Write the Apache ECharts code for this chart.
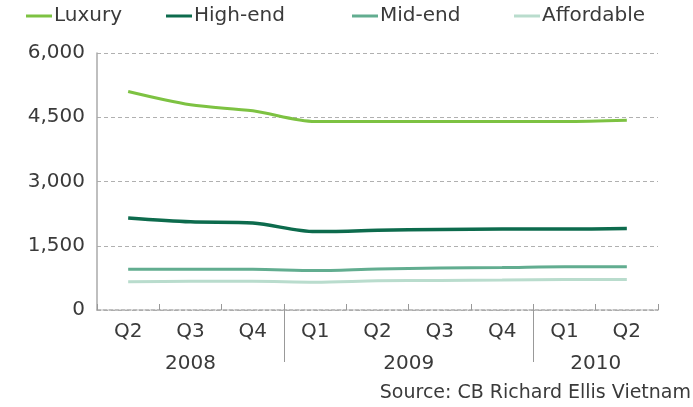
<!DOCTYPE html>
<html>
<head>
<meta charset="utf-8">
<script src="https://cdn.jsdelivr.net/npm/echarts@6/dist/echarts.min.js"></script>
<style>
  html, body { margin: 0; padding: 0; background: #fff; }
  #chart { width: 693px; height: 407px; }
</style>
</head>
<body>
<div id="chart"></div>
<script>
// quarters along the x axis
const quarters = ['Q2', 'Q3', 'Q4', 'Q1', 'Q2', 'Q3', 'Q4', 'Q1', 'Q2']
// years and how many quarters each covers
const years = ['2008', '2009', '2010']
const quartersPerYear = [3, 4, 2]

const seriesNames = ['Luxury', 'High-end', 'Mid-end', 'Affordable']
const luxury = [5100, 4790, 4650, 4400, 4400, 4400, 4400, 4400, 4430]
const highEnd = [2150, 2060, 2030, 1830, 1860, 1880, 1890, 1890, 1900]
const midEnd = [950, 950, 950, 920, 960, 980, 990, 1010, 1010]
const affordable = [660, 670, 670, 650, 680, 690, 700, 710, 710]

const yTicks = [0, 1500, 3000, 4500, 6000]

const colors = ['#7dc242', '#0d6b4d', '#62ad90', '#b9dccd']
const font = 'DejaVu Sans'

// year label centres and separators in category units
const yearCenters = []
const yearBreaks = []
let acc = 0
quartersPerYear.forEach((n, i) => {
  yearCenters.push(acc + n / 2)
  acc += n
  if (i < quartersPerYear.length - 1) yearBreaks.push(acc)
})

const chart = echarts.init(document.getElementById('chart'))

const legendLeft = [26, 166, 352, 514]
const legends = seriesNames.map((name, i) => ({
  data: [name],
  left: legendLeft[i],
  top: 6,
  padding: 0,
  itemWidth: 26,
  itemHeight: 3,
  itemGap: 0,
  icon: 'rect',
  textStyle: { fontFamily: font, fontSize: 20, color: '#3a3a3a', padding: [0, 0, 0, -3] }
}))

const seriesData = [luxury, highEnd, midEnd, affordable]
const widths = [3, 3.5, 3, 3]

const option = {
  animation: false,
  color: colors,
  legend: legends,
  title: {
    text: 'Source: CB Richard Ellis Vietnam',
    right: 2,
    top: 384,
    padding: 0,
    textStyle: { fontFamily: font, fontSize: 19, fontWeight: 'normal', color: '#3a3a3a' }
  },
  grid: { left: 97, right: 35, top: 53, bottom: 97 },
  xAxis: [
    {
      type: 'category',
      data: quarters,
      boundaryGap: true,
      axisLine: { lineStyle: { color: '#aaa', type: [4, 2], width: 1.5 } },
      axisTick: { show: true, inside: true, length: 6, lineStyle: { color: '#999' } },
      axisLabel: { fontFamily: font, fontSize: 20, color: '#3a3a3a', margin: 12 }
    },
    {
      type: 'value',
      position: 'bottom',
      min: 0,
      max: quarters.length,
      axisLine: { show: false },
      splitLine: { show: false },
      axisTick: {
        show: true,
        customValues: yearBreaks,
        length: 52,
        lineStyle: { color: '#999', width: 1 }
      },
      axisLabel: {
        customValues: yearCenters,
        fontFamily: font,
        fontSize: 20,
        color: '#3a3a3a',
        margin: 44,
        formatter: v => years[yearCenters.indexOf(v)] || ''
      }
    }
  ],
  yAxis: {
    type: 'value',
    min: yTicks[0],
    max: yTicks[yTicks.length - 1],
    interval: 1500,
    axisLine: { show: true, lineStyle: { color: '#aaa', width: 1.5 } },
    axisTick: { show: false },
    axisLabel: { fontFamily: font, fontSize: 20, color: '#3a3a3a', margin: 12 },
    splitLine: { lineStyle: { color: '#b0b0b0', type: [4, 3] } }
  },
  series: seriesNames.map((name, i) => ({
    name: name,
    type: 'line',
    data: seriesData[i],
    smooth: 0.3,
    symbol: 'none',
    lineStyle: { width: widths[i] },
    z: 10 - i
  }))
}

chart.setOption(option)
</script>
</body>
</html>
